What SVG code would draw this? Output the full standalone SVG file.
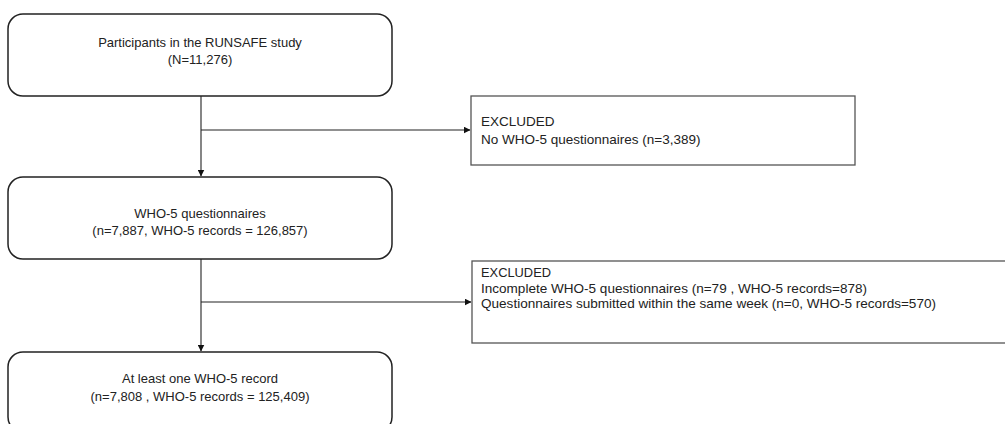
<svg xmlns="http://www.w3.org/2000/svg" width="1005" height="424" viewBox="0 0 1005 424">
<defs>
<marker id="ah" markerWidth="7" markerHeight="7" refX="6.5" refY="3.5" orient="auto" markerUnits="userSpaceOnUse">
<path d="M0,0 L7,3.5 L0,7 Z" fill="#111"/>
</marker>
<style>
.rbox{fill:#fff;stroke:#222;stroke-width:1.5}
.ebox{fill:#fff;stroke:#555;stroke-width:1.3}
.t{font-family:"Liberation Sans",Arial,sans-serif;font-size:13px;fill:#222}
.e{font-size:13.5px}
.e2{font-size:13px}
.c{text-anchor:middle}
.ln{stroke:#222;stroke-width:1.1;fill:none}
</style>
</defs>
<rect width="1005" height="424" fill="#fff"/>
<g id="connectors">
<line class="ln" x1="201" y1="96" x2="201" y2="176" marker-end="url(#ah)"/>
<line class="ln" x1="201" y1="130" x2="470" y2="130" marker-end="url(#ah)"/>
<line class="ln" x1="201" y1="259" x2="201" y2="351" marker-end="url(#ah)"/>
<line class="ln" x1="201" y1="302" x2="471" y2="302" marker-end="url(#ah)"/>
</g>
<g id="participants">
<rect class="rbox" x="8" y="14" width="384" height="82" rx="15"/>
<text class="t c" x="200" y="47">Participants in the RUNSAFE study</text>
<text class="t c" x="200" y="64">(N=11,276)</text>
</g>
<g id="excluded1">
<rect class="ebox" x="471" y="96" width="384" height="69"/>
<text class="t e" x="481" y="126">EXCLUDED</text>
<text class="t e" x="481" y="144">No WHO-5 questionnaires (n=3,389)</text>
</g>
<g id="who5">
<rect class="rbox" x="8" y="177" width="384" height="82" rx="15"/>
<text class="t c" x="200" y="218">WHO-5 questionnaires</text>
<text class="t c" x="200" y="235">(n=7,887, WHO-5 records = 126,857)</text>
</g>
<g id="excluded2">
<rect class="ebox" x="472" y="261" width="540" height="82"/>
<text class="t e2" x="481" y="277" textLength="70" lengthAdjust="spacingAndGlyphs">EXCLUDED</text>
<text class="t e2" x="481" y="292.5" textLength="386" lengthAdjust="spacingAndGlyphs">Incomplete WHO-5 questionnaires (n=79 , WHO-5 records=878)</text>
<text class="t e2" x="481" y="308" textLength="455" lengthAdjust="spacingAndGlyphs">Questionnaires submitted within the same week (n=0, WHO-5 records=570)</text>
</g>
<g id="atleastone">
<rect class="rbox" x="8" y="352" width="384" height="80" rx="15"/>
<text class="t c" x="200" y="383">At least one WHO-5 record</text>
<text class="t c" x="200" y="401">(n=7,808 , WHO-5 records = 125,409)</text>
</g>
</svg>
